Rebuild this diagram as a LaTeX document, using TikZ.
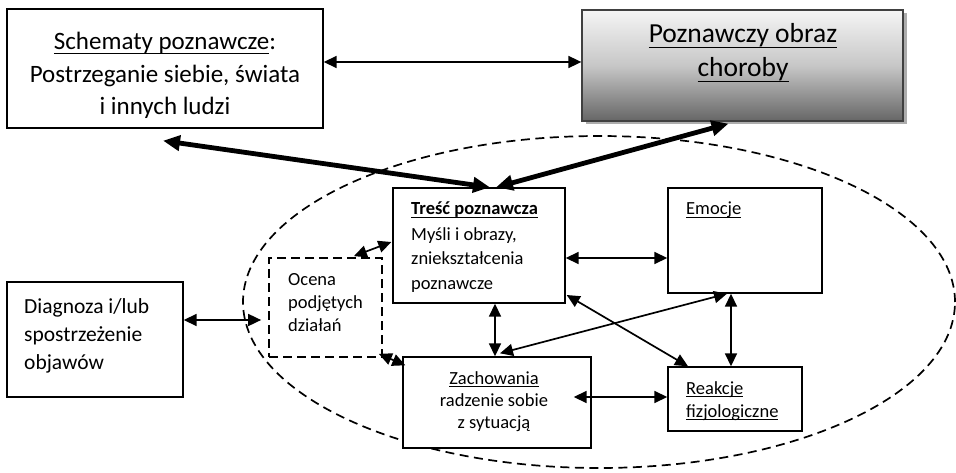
\documentclass[tikz,border=0pt]{standalone}
\usepackage{fontspec}
\setmainfont{Carlito}
\usetikzlibrary{arrows.meta,calc,shapes.geometric,shadows}
% underline at a chosen depth and thickness
\newcommand{\ulat}[3]{{\setbox0=\hbox{#3}\rlap{\rule[-#1]{\wd0}{#2}}\box0}}
\begin{document}
\begin{tikzpicture}[x=1pt,y=-1pt,
  box/.style={draw, line width=1.4pt, rectangle, fill=white, inner sep=0pt},
  dbox/.style={box, dash pattern=on 9pt off 5pt, line width=1.7pt},
  txt/.style={inner sep=0pt, font=\fontsize{18.5}{25}\selectfont},
  link/.style={{Triangle[length=13pt,width=12pt]}-{Triangle[length=13pt,width=12pt]}, line width=1.7pt},
  strong/.style={{Triangle[length=17pt,width=15pt]}-{Triangle[length=17pt,width=15pt]}, line width=4.8pt},
  oval/.style={draw, ellipse, dash pattern=on 9pt off 5.5pt, line width=1.7pt, inner sep=0pt}]
\useasboundingbox (0,0) rectangle (956,473);

% dashed region around the inner cycle
\node[oval, minimum width=712pt, minimum height=332pt] (region) at (599,302) {};

% boxes
\node[box, minimum width=316pt, minimum height=119pt] (sch) at (165,68.5) {};
\node[draw=black!75, line width=1.3pt, inner sep=0pt,
      top color=black!4, bottom color=black!60, middle color=black!22,
      drop shadow={shadow xshift=3.5pt, shadow yshift=-3.5pt, fill=black!32, opacity=1},
      minimum width=321pt, minimum height=111pt] (poz) at (742.5,65.5) {};
\node[box, minimum width=172pt, minimum height=115pt] (tresc) at (479,245.5) {};
\node[dbox, minimum width=113pt, minimum height=99pt] (ocena) at (325.5,307.5) {};
\node[box, minimum width=188pt, minimum height=91pt] (zach) at (497,402.5) {};
\node[box, minimum width=154pt, minimum height=105pt] (emocje) at (745,240.5) {};
\node[box, minimum width=134pt, minimum height=64pt] (reakcje) at (735,399) {};
\node[box, minimum width=176pt, minimum height=115pt] (diag) at (95,339.5) {};

% texts (each placed by the baseline of its last line)
\node[txt, anchor=base, align=center, font=\fontsize{25}{32.5}\selectfont] (sch-t) at (165,115)
  {\ulat{4pt}{1.3pt}{Schematy poznawcze}:\\Postrzeganie siebie, świata\\i innych ludzi};
\node[txt, anchor=base, align=center, font=\fontsize{27.5}{34}\selectfont] (poz-t) at (743,77)
  {\ulat{5pt}{1.4pt}{Poznawczy obraz}\\\ulat{5pt}{1.4pt}{choroby}};
\node[txt, anchor=base west, align=left, font=\fontsize{21.5}{28}\selectfont] (diag-t) at (24,369)
  {Diagnoza i/lub\\spostrzeżenie\\objawów};
\node[txt, anchor=base west, align=left] (tresc-t) at (411,290)
  {\textbf{\ulat{3pt}{1.1pt}{Treść poznawcza}}\\Myśli i obrazy,\\zniekształcenia\\poznawcze};
\node[txt, anchor=base west, align=left, font=\fontsize{18.5}{23}\selectfont] (ocena-t) at (288,331)
  {Ocena\\podjętych\\działań};
\node[txt, anchor=base, align=center, font=\fontsize{18.5}{22}\selectfont] (zach-t) at (494,428)
  {\ulat{3pt}{1.1pt}{Zachowania}\\radzenie sobie\\z sytuacją};
\node[txt, anchor=base west, align=left] (emocje-t) at (686,215)
  {\ulat{3pt}{1.1pt}{Emocje}};
\node[txt, anchor=base west, align=left, font=\fontsize{18.5}{23}\selectfont] (reakcje-t) at (686,417)
  {\ulat{3pt}{1.1pt}{Reakcje}\\\ulat{3pt}{1.1pt}{fizjologiczne}};

% connectors
\draw[link] ($(sch.east)+(0,-6.5)$) -- ($(poz.west)+(0,-3.5)$);
\draw[strong] ($(sch.south)+(-2,12)$) -- ($(tresc.north)+(11,0)$);
\draw[strong] ($(poz.south)+(-14,2)$) -- ($(tresc.north)+(17,0)$);
\draw[link] ($(diag.east)+(0,-19.5)$) -- ($(ocena.west)+(-7,12.5)$);
\draw[link] ($(ocena.north east)+(-29,-1)$) -- ($(tresc.west)+(-1,-3.5)$);
\draw[link] ($(ocena.south east)+(-4,-4)$) -- ($(zach.north west)+(3,9)$);
\draw[link] ($(tresc.south)+(16,0)$) -- ($(zach.north)+(-2,0)$);
\draw[link] ($(tresc.east)+(0,12.5)$) -- ($(emocje.west)+(0,17.5)$);
\draw[link] ($(tresc.east)+(1,49.5)$) -- ($(reakcje.north)+(-47,0)$);
\draw[link] ($(zach.north)+(3,-3)$) -- ($(emocje.south)+(-18,0)$);
\draw[link] ($(emocje.south)+(-14,0)$) -- ($(reakcje.north)+(-4,0)$);
\draw[link] ($(zach.east)+(-18,-5.5)$) -- ($(reakcje.west)+(0,-2)$);
\end{tikzpicture}
\end{document}
